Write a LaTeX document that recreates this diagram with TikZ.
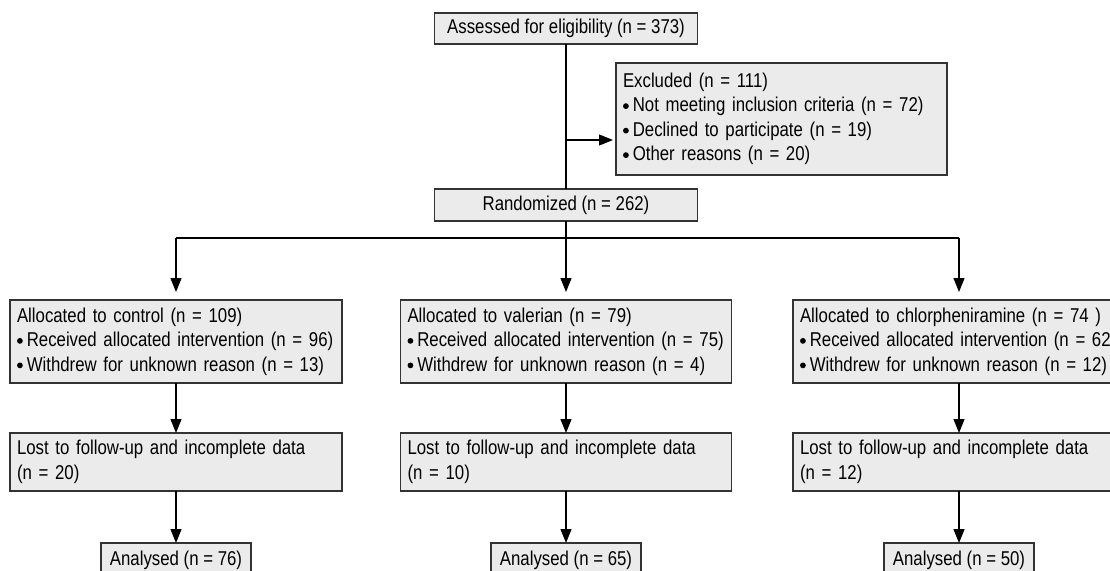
\documentclass[tikz,border=0pt]{standalone}
\usepackage{fontspec}
\setmainfont{Liberation Sans}[FakeStretch=0.84]
\usetikzlibrary{arrows.meta}
\definecolor{boxgray}{HTML}{EBEBEB}
\definecolor{edgegray}{HTML}{333333}
\newcommand{\bul}{\tikz[baseline={(0,-5.8pt)}]\fill[black] (0,0) circle (2.9pt);\hspace{4pt}}
\begin{document}
\begin{tikzpicture}[x=1pt,y=-1pt,
  font=\fontsize{20}{24.5}\selectfont,
  box/.style={draw=edgegray, fill=boxgray, line width=1.4pt, inner ysep=0pt, inner xsep=7pt, outer sep=0pt, anchor=north},
  cbox/.style={box, align=center},
  lbox/.style={box, align=left, text width=#1},
  link/.style={line width=1.3pt, black},
  arr/.style={link, -{Triangle[length=14pt,width=11pt]}}]
\useasboundingbox (0,0) rectangle (1110,570);
\clip (0,0) rectangle (1110,570);

% column centres: 176, 566, 959
\node[cbox, minimum width=263pt, minimum height=31pt] (assess) at (566,13) {Assessed for eligibility (n = 373)};
\node[lbox=317pt, minimum height=112pt, anchor=north west] (excl) at (616,63) {Excluded (n = 111)\\\bul Not meeting inclusion criteria (n = 72)\\\bul Declined to participate (n = 19)\\\bul Other reasons (n = 20)};
\node[cbox, minimum width=263pt, minimum height=32pt] (rand) at (566,189) {Randomized (n = 262)};

\node[lbox=318pt, minimum height=83pt] (ctrl) at (176,300) {Allocated to control (n = 109)\\\bul Received allocated intervention (n = 96)\\\bul Withdrew for unknown reason (n = 13)};
\node[lbox=317pt, minimum height=83pt] (val) at (566,300) {Allocated to valerian (n = 79)\\\bul Received allocated intervention (n = 75)\\\bul Withdrew for unknown reason (n = 4)};
\node[lbox=318pt, minimum height=83pt] (chl) at (959,300) {Allocated to chlorpheniramine (n = 74 )\\\bul Received allocated intervention (n = 62)\\\bul Withdrew for unknown reason (n = 12)};

\node[lbox=318pt, minimum height=58pt] (lost1) at (176,433) {Lost to follow-up and incomplete data\\(n = 20)};
\node[lbox=317pt, minimum height=58pt] (lost2) at (566,433) {Lost to follow-up and incomplete data\\(n = 10)};
\node[lbox=318pt, minimum height=58pt] (lost3) at (959,433) {Lost to follow-up and incomplete data\\(n = 12)};

\node[cbox, minimum width=150pt, minimum height=34pt] (an1) at (176,543) {Analysed (n = 76)};
\node[cbox, minimum width=150pt, minimum height=34pt] (an2) at (566,543) {Analysed (n = 65)};
\node[cbox, minimum width=150pt, minimum height=34pt] (an3) at (959,543) {Analysed (n = 50)};

\coordinate (exy) at (0,140);
\coordinate (hy) at (0,238);
\draw[link] (assess.south) -- (rand.north);
\draw[arr, shorten >=3pt] (assess.south |- exy) -- (excl.west |- exy);
\draw[link] (ctrl.north |- hy) -- (chl.north |- hy);
\draw[arr, shorten >=8pt] (ctrl.north |- hy) -- (ctrl.north);
\draw[arr, shorten >=8pt] (rand.south) -- (val.north);
\draw[arr, shorten >=8pt] (chl.north |- hy) -- (chl.north);
\draw[arr] (ctrl.south) -- (lost1.north);
\draw[arr] (val.south) -- (lost2.north);
\draw[arr] (chl.south) -- (lost3.north);
\draw[arr] (lost1.south) -- (an1.north);
\draw[arr] (lost2.south) -- (an2.north);
\draw[arr] (lost3.south) -- (an3.north);
\end{tikzpicture}
\end{document}
